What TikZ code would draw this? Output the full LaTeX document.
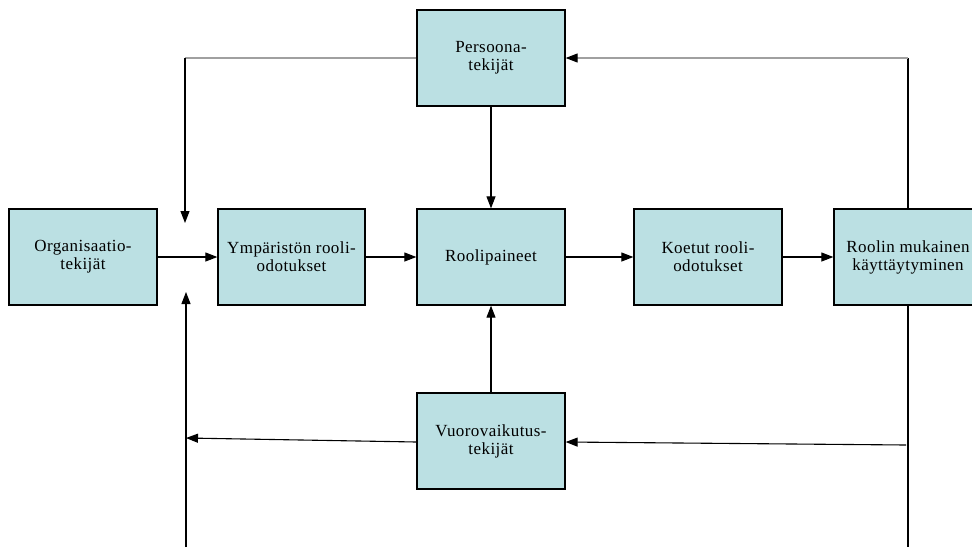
\documentclass[tikz,border=0pt]{standalone}
\usepackage{fontspec}
\setmainfont{Liberation Serif}[LetterSpace=2.5]
\usetikzlibrary{arrows.meta}
\definecolor{boxfill}{HTML}{BBE0E3}
\definecolor{linegray}{HTML}{A0A0A0}
\begin{document}
\begin{tikzpicture}[x=1pt,y=-1pt,
  factor/.style={draw=black,line width=1.3pt,fill=boxfill,minimum width=148pt,minimum height=96pt,
    inner sep=0pt,align=center,font=\fontsize{17pt}{18pt}\selectfont},
  conn/.style={line width=1.1pt,-{Triangle[length=12pt,width=9pt]}},
  grayconn/.style={line width=1.1pt,draw=linegray,-{Triangle[length=12pt,width=9pt,color=black]}},
  plain/.style={line width=1.1pt},
  grayline/.style={line width=1.1pt,draw=linegray}]
\useasboundingbox (0,0) rectangle (972,547);
\clip (0,0) rectangle (972,547);
\node[factor] (P) at (491,58) {Persoona-\\tekijät};
\node[factor] (O) at (83,257) {Organisaatio-\\tekijät};
\node[factor,minimum width=147pt] (Y) at (291.5,257) {Ympäristön rooli-\\odotukset};
\node[factor] (R) at (491,257) {Roolipaineet};
\node[factor] (K) at (708,257) {Koetut rooli-\\odotukset};
\node[factor] (M) at (908,257) {Roolin mukainen\\käyttäytyminen};
\node[factor] (V) at (491,441) {Vuorovaikutus-\\tekijät};
\coordinate (tl) at (185,58);
\coordinate (tla) at (185,223);
\coordinate (bl) at (186,547);
\coordinate (bla) at (186,292);
\coordinate (vl) at (186,438);
\coordinate (tr) at (908,58);
\coordinate (br) at (908,547);
\coordinate (vr) at (906,445);
% main chain
\draw[conn] (O.east) -- (Y.west);
\draw[conn] (Y.east) -- (R.west);
\draw[conn] (R.east) -- (K.west);
\draw[conn] (K.east) -- (M.west);
\draw[conn] (P.south) -- (R.north);
\draw[conn] (V.north) -- (R.south);
% feedback loops
\draw[grayline] (P.west) -- (tl);
\draw[conn] (tl) -- (tla);
\draw[conn] (bl) -- (bla);
\draw[conn] (V.west |- 0,442) -- (vl);
\draw[plain] (M.north) -- (tr);
\draw[grayconn] (tr) -- (P.east);
\draw[plain] (M.south) -- (br);
\draw[conn] (vr) -- (V.east |- 0,442);
\end{tikzpicture}
\end{document}
